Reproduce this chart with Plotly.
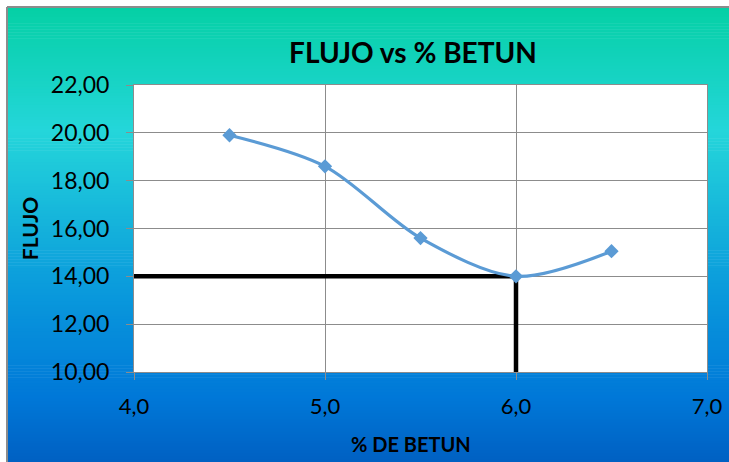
import plotly.graph_objects as go

# Flow test results against bitumen content
betun_pct = [4.5, 5.0, 5.5, 6.0, 6.5]
flujo = [19.9, 18.6, 15.6, 14.0, 15.05]

# Reading of the flow at the optimum bitumen content
opt_betun = 6.0
opt_flujo = 14.0
x_min, x_max = 4.0, 7.0
y_min, y_max = 10.0, 22.0

x_ticks = [4.0, 5.0, 6.0, 7.0]
y_ticks = [10, 12, 14, 16, 18, 20, 22]

W, H = 729, 462
ML, MR, MT, MB = 134, 22, 85, 90
PW, PH = W - ML - MR, H - MT - MB


def px_x(p):
    return (p - ML) / PW


def px_y(p):
    return (H - MB - p) / PH


def hex_rgb(h):
    h = h.lstrip("#")
    return tuple(int(h[i:i + 2], 16) for i in (0, 2, 4))


stops = [(0.0, "#05D0A5"), (0.27, "#24D6DA"), (0.62, "#0A9ADC"),
         (0.86, "#0078D8"), (1.0, "#0060C2")]


def grad(t):
    for (a, ca), (b, cb) in zip(stops[:-1], stops[1:]):
        if t <= b:
            f = (t - a) / (b - a) if b > a else 0
            ra, rb = hex_rgb(ca), hex_rgb(cb)
            c = [round(ra[i] + (rb[i] - ra[i]) * f) for i in range(3)]
            return f"rgb({c[0]},{c[1]},{c[2]})"
    return stops[-1][1]


shapes = []
top, bottom, left, right = 8, H, 8, W
n = 150
step = (bottom - top) / n
for i in range(n):
    y0 = top + i * step
    y1 = y0 + step + 0.6
    shapes.append(dict(type="rect", xref="paper", yref="paper",
                       x0=px_x(left), x1=px_x(right + 2),
                       y0=px_y(min(y1, bottom + 2)), y1=px_y(y0),
                       fillcolor=grad((i + 0.5) / n), line=dict(width=0),
                       layer="below"))
# grey frame edges
shapes.append(dict(type="line", xref="paper", yref="paper",
                   x0=px_x(7), x1=px_x(7), y0=px_y(H + 2), y1=px_y(7),
                   line=dict(color="#8C8C8C", width=2), layer="below"))
shapes.append(dict(type="line", xref="paper", yref="paper",
                   x0=px_x(7), x1=px_x(W + 2), y0=px_y(7), y1=px_y(7),
                   line=dict(color="#8C8C8C", width=2), layer="below"))
# white plotting area over the gradient
shapes.append(dict(type="rect", xref="paper", yref="paper",
                   x0=0, x1=1, y0=0, y1=1, fillcolor="white",
                   line=dict(width=0), layer="below"))

fig = go.Figure()

fig.add_trace(go.Scatter(
    x=[x_min, opt_betun, opt_betun], y=[opt_flujo, opt_flujo, y_min],
    mode="lines", line=dict(color="black", width=4.5),
    showlegend=False, hoverinfo="skip", cliponaxis=False))

fig.add_trace(go.Scatter(
    x=betun_pct, y=flujo, mode="lines+markers",
    line=dict(color="#5B9BD5", width=3.2, shape="spline", smoothing=0.9),
    marker=dict(symbol="diamond", size=11, color="#5B9BD5"),
    showlegend=False, cliponaxis=False))

font_family = "Lato, 'Open Sans', sans-serif"

fig.update_layout(
    width=W, height=H,
    margin=dict(l=ML, r=MR, t=MT, b=MB),
    paper_bgcolor="white",
    plot_bgcolor="white",
    separators=",.",
    shapes=shapes,
    font=dict(family=font_family, color="black"),
    title=dict(text="<b>FLUJO vs % BETUN</b>", x=px_x(413), xref="paper",
               xanchor="center", y=1 - 53 / H, yanchor="middle",
               font=dict(size=28, color="black", family=font_family)),
    annotations=[dict(text="<b>% DE BETUN</b>", xref="paper", yref="paper",
                      x=px_x(411), y=px_y(444), xanchor="center",
                      yanchor="middle", showarrow=False,
                      font=dict(size=20, color="black"))],
    xaxis=dict(range=[x_min, x_max], tickvals=x_ticks, tickformat=".1f",
               automargin=False,
               showgrid=True, gridcolor="#8C8C8C", gridwidth=1,
               showline=True, linecolor="#8C8C8C", linewidth=1, mirror=True,
               ticks="outside", ticklen=7, tickcolor="#8C8C8C",
               ticklabelstandoff=8, zeroline=False, layer="below traces",
               tickfont=dict(size=22, color="black")),
    yaxis=dict(range=[y_min, y_max], tickvals=y_ticks, tickformat=".2f",
               automargin=False,
               showgrid=True, gridcolor="#8C8C8C", gridwidth=1,
               showline=True, linecolor="#8C8C8C", linewidth=1, mirror=True,
               ticks="outside", ticklen=7, tickcolor="#8C8C8C",
               ticklabelstandoff=12, zeroline=False, layer="below traces",
               tickfont=dict(size=23, color="black"),
               title=dict(text="<b>FLUJO</b>", standoff=6,
                          font=dict(size=21, color="black"))),
)

fig.write_html("out.html")
